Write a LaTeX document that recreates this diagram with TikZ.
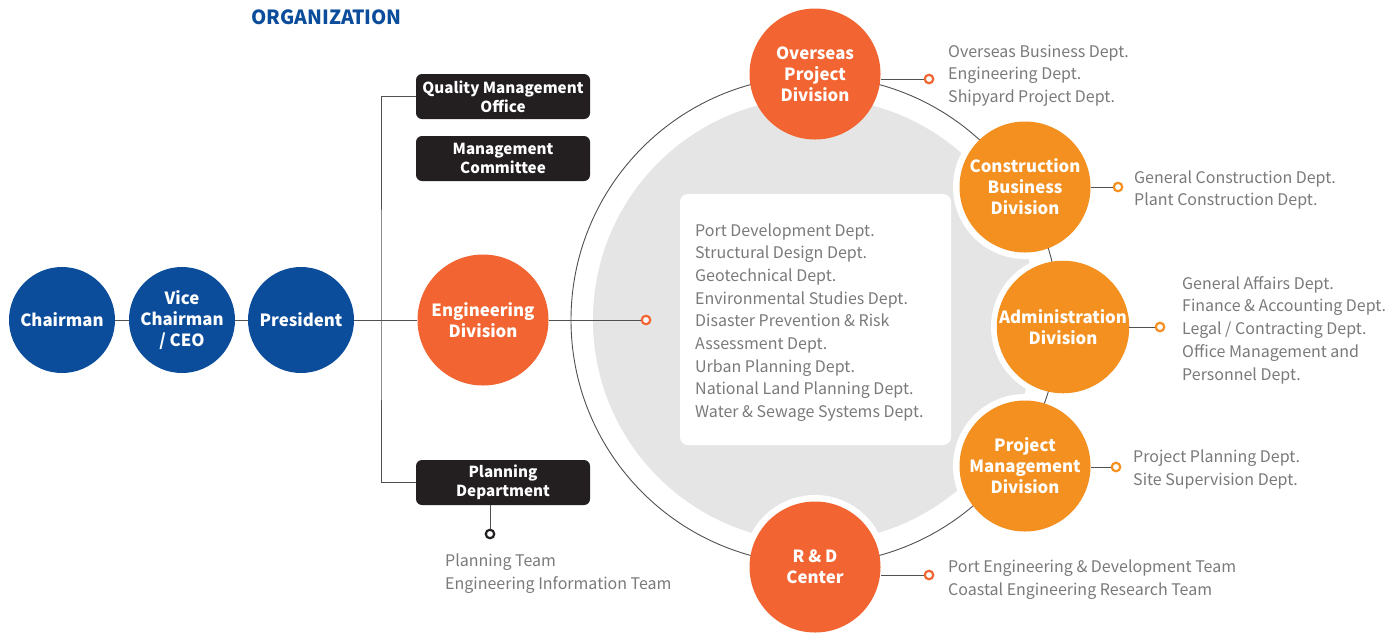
\documentclass[tikz,border=0pt]{standalone}
\usepackage{fontspec}
\setmainfont{Noto Sans CJK KR}
\definecolor{cblue}{HTML}{0B4D9B}
\definecolor{cred}{HTML}{F26532}
\definecolor{corange}{HTML}{F39020}
\definecolor{cdark}{HTML}{231F20}
\definecolor{cgray}{HTML}{7A7A7A}
\definecolor{clight}{HTML}{E5E5E5}
\definecolor{clines}{HTML}{505050}
\begin{document}
\begin{tikzpicture}[x=1pt,y=-1pt,
  bluec/.style={circle, fill=cblue, minimum size=106pt, inner sep=0pt, text=white, align=center, font=\bfseries\fontsize{16.8}{21}\selectfont},
  redc/.style={circle, fill=cred, minimum size=131pt, inner sep=0pt, text=white, align=center, font=\bfseries\fontsize{16.8}{21}\selectfont},
  orc/.style={circle, fill=corange, minimum size=131pt, inner sep=0pt, text=white, align=center, font=\bfseries\fontsize{16.8}{21}\selectfont},
  dbox/.style={rectangle, rounded corners=6pt, fill=cdark, minimum width=174pt, minimum height=45pt, inner sep=0pt, text=white, align=center, font=\bfseries\fontsize{15.2}{19}\selectfont},
  dotr/.style={circle, draw=cred, line width=2.2pt, fill=white, minimum size=8.5pt, inner sep=0pt},
  doto/.style={circle, draw=corange, line width=2.2pt, fill=white, minimum size=8.5pt, inner sep=0pt},
  dotk/.style={circle, draw=cdark, line width=2.2pt, fill=white, minimum size=8.5pt, inner sep=0pt},
  lst/.style={anchor=west, align=left, inner sep=0pt, text=cgray, font=\fontsize{16}{22.7}\selectfont},
  ln/.style={draw=clines, line width=1pt},
  wbox/.style={rectangle, rounded corners=8pt, fill=white, minimum width=271pt, minimum height=251pt, inner sep=0pt}
]
\useasboundingbox[fill=white] (0,0) rectangle (1399,633);

% title
\node[anchor=west, inner sep=0pt, text=cblue, font=\bfseries\fontsize{19.5}{19.5}\selectfont] (title) at (251,17) {ORGANIZATION};

% background disc
\fill[clight] (815,320) circle[radius=222pt];
\foreach \p in {(1025,187),(1063,327),(1025,466),(815,567)}
  \fill[white] \p circle[radius=72pt];
\node[wbox] (box) at (815.5,319.5) {};
\node[lst] (boxt) at (695,322.5) {Port Development Dept.\\Structural Design Dept.\\Geotechnical Dept.\\Environmental Studies Dept.\\Disaster Prevention \& Risk\\Assessment Dept.\\Urban Planning Dept.\\National Land Planning Dept.\\Water \& Sewage Systems Dept.};
\draw[clines, line width=0.9pt] (815,320) circle[radius=244pt];

% left chain
\node[bluec] (ch) at (62,320) {Chairman};
\node[bluec] (vc) at (182,320) {Vice\\Chairman\\/ CEO};
\node[bluec] (pr) at (301,320) {President};
\node[redc] (eng) at (483,320) {Engineering\\Division};
\node[dotr] (engd) at (646,320) {};

\node[dbox] (qmo) at (503,96.5) {Quality Management\\Office};
\node[dbox] (mc) at (503,158.5) {Management\\Committee};
\node[dbox] (pd) at (503,482.5) {Planning\\Department};
\node[dotk] (pdd) at (490,534) {};
\node[lst] (pdt) at (445,573.5) {Planning Team\\Engineering Information Team};

\coordinate (tj) at (381,320);
\draw[ln] (ch) -- (vc);
\draw[ln] (vc) -- (pr);
\draw[ln] (pr) -- (eng);
\draw[ln] (eng) -- (engd);
\draw[ln] (qmo.west) -| (tj) |- (pd.west);
\draw[ln] (pdd) -- (pdd |- pd.south);

% ring divisions
\node[redc] (ov) at (815,74) {Overseas\\Project\\Division};
\node[orc] (cb) at (1025,187) {Construction\\Business\\Division};
\node[orc] (ad) at (1063,327) {Administration\\Division};
\node[orc] (pm) at (1025,466) {Project\\Management\\Division};
\node[redc] (rd) at (815,567) {R \& D\\Center};

\node[dotr] (ovd) at (929,79) {};
\node[doto] (cbd) at (1118,187) {};
\node[doto] (add) at (1160,327) {};
\node[doto] (pmd) at (1116,467) {};
\node[dotr] (rdd) at (929,575) {};

\draw[ln] (ovd) -- (ovd -| ov.east);
\draw[ln] (cbd) -- (cb);
\draw[ln] (add) -- (ad);
\draw[ln] (pmd) -- (pmd -| pm.east);
\draw[ln] (rdd) -- (rdd -| rd.east);

\node[lst] (ovt) at (948,75.5) {Overseas Business Dept.\\Engineering Dept.\\Shipyard Project Dept.};
\node[lst] (cbt) at (1134,190) {General Construction Dept.\\Plant Construction Dept.};
\node[lst] (adt) at (1182,330) {General Affairs Dept.\\Finance \& Accounting Dept.\\Legal / Contracting Dept.\\Office Management and\\Personnel Dept.};
\node[lst] (pmt) at (1133,469.5) {Project Planning Dept.\\Site Supervision Dept.};
\node[lst] (rdt) at (948,579.5) {Port Engineering \& Development Team\\Coastal Engineering Research Team};
\end{tikzpicture}
\end{document}
